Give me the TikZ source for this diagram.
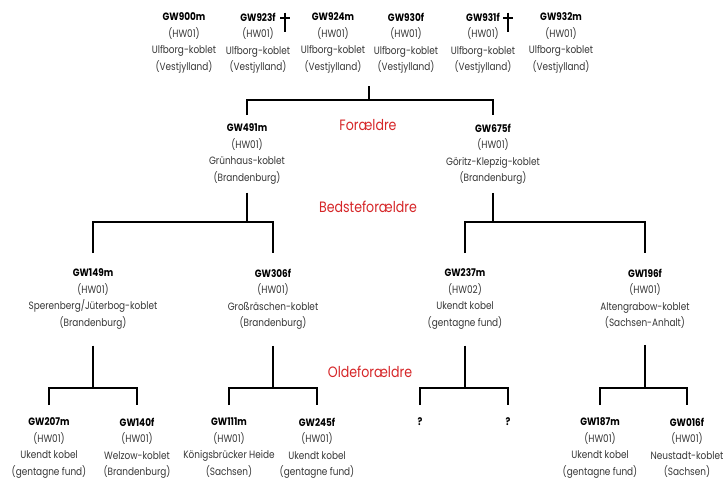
\documentclass[tikz,border=0pt]{standalone}
\usepackage{fontspec}
\setmainfont{Poppins}[FakeStretch=0.84]
\definecolor{txtgray}{RGB}{55,55,55}
\definecolor{gred}{RGB}{214,38,40}
\newcommand\pers[4]{\rule{0pt}{8pt}\textbf{\textcolor{black}{#1}}\\#2\\#3\\#4}
\begin{document}
\begin{tikzpicture}[x=1pt,y=-1pt,
  person/.style={align=center, anchor=north, inner sep=0pt, font=\fontsize{10.6}{16.6}\selectfont, text=txtgray},
  qmark/.style={anchor=north, inner sep=0pt, font=\fontsize{10.6}{16.6}\selectfont\bfseries},
  conn/.style={line width=2.6pt},
  gen/.style={text=gred, font=\fontsize{15}{16}\selectfont, inner sep=0pt}]
\path[use as bounding box, fill=white] (0,0) rectangle (724,480);

% top row
\node[person] (p900) at (184,12.5) {\pers{GW900m}{(HW01)}{Ulfborg-koblet}{(Vestjylland)}};
\node[person] (p923) at (258,12.5) {\pers{GW923f}{(HW01)}{Ulfborg-koblet}{(Vestjylland)}};
\node[person] (p924) at (333,12.5) {\pers{GW924m}{(HW01)}{Ulfborg-koblet}{(Vestjylland)}};
\node[person] (p930) at (406,12.5) {\pers{GW930f}{(HW01)}{Ulfborg-koblet}{(Vestjylland)}};
\node[person] (p931) at (483,12.5) {\pers{GW931f}{(HW01)}{Ulfborg-koblet}{(Vestjylland)}};
\node[person] (p932) at (561,12.5) {\pers{GW932m}{(HW01)}{Ulfborg-koblet}{(Vestjylland)}};

% crosses
\foreach \cx in {285,508}{
  \draw[line width=2.6pt] (\cx,12.5) -- (\cx,32);
  \draw[line width=2.4pt] (\cx-5,18) -- (\cx+5,18);
}

% parents
\node[person] (p491) at (247,123.5) {\pers{GW491m}{(HW01)}{Grünhaus-koblet}{(Brandenburg)}};
\node[person] (p675) at (493,123.5) {\pers{GW675f}{(HW01)}{Göritz-Klepzig-koblet}{(Brandenburg)}};

% grandparents
\node[person] (p149) at (93,268.5) {\pers{GW149m}{(HW01)}{Sperenberg/Jüterbog-koblet}{(Brandenburg)}};
\node[person] (p306) at (273,268.5) {\pers{GW306f}{(HW01)}{Großräschen-koblet}{(Brandenburg)}};
\node[person] (p237) at (465,268.5) {\pers{GW237m}{(HW02)}{Ukendt kobel}{(gentagne fund)}};
\node[person] (p196) at (645,268.5) {\pers{GW196f}{(HW01)}{Altengrabow-koblet}{(Sachsen-Anhalt)}};

% great-grandparents
\node[person] (p207) at (49,417.5) {\pers{GW207m}{(HW01)}{Ukendt kobel}{(gentagne fund)}};
\node[person] (p140) at (137,417.5) {\pers{GW140f}{(HW01)}{Welzow-koblet}{(Brandenburg)}};
\node[person] (p111) at (229,417.5) {\pers{GW111m}{(HW01)}{Königsbrücker Heide}{(Sachsen)}};
\node[person] (p245) at (317,417.5) {\pers{GW245f}{(HW01)}{Ukendt kobel}{(gentagne fund)}};
\node[qmark] (q1) at (420,417.5) {\rule{0pt}{8pt}?};
\node[qmark] (q2) at (508,417.5) {\rule{0pt}{8pt}?};
\node[person] (p187) at (600,417.5) {\pers{GW187m}{(HW01)}{Ukendt kobel}{(gentagne fund)}};
\node[person] (p016) at (687,417.5) {\pers{GW016f}{(HW01)}{Neustadt-koblet}{(Sachsen)}};

% generation labels
\node[gen] (lf) at (368,125) {Forældre};
\node[gen] (lb) at (368,207) {Bedsteforældre};
\node[gen] (lo) at (370,372) {Oldeforældre};

% connectors
\coordinate (c0) at (369,86);
\coordinate (j1) at (369,100);
\coordinate (y2) at (0,222);
\coordinate (y3) at (0,388);
\draw[conn] (c0) -- (j1);
\draw[conn] ([yshift=8.5pt]p491.north) |- (j1) -| ([yshift=8.5pt]p675.north);

\draw[conn] ([yshift=-8pt]p491.south) -- (p491.south |- y2);
\draw[conn] ([yshift=15.5pt]p149.north) |- (p306.north |- y2) -- ([yshift=15.5pt]p306.north);
\draw[conn] ([yshift=-8pt]p675.south) -- (p675.south |- y2);
\draw[conn] ([yshift=15.5pt]p237.north) |- (p196.north |- y2) -- ([yshift=15.5pt]p196.north);

\draw[conn] ([yshift=-16pt]p149.south) -- (p149.south |- y3);
\draw[conn] ([yshift=12.5pt]p207.north) |- (p140.north |- y3) -- ([yshift=12.5pt]p140.north);
\draw[conn] ([yshift=-16pt]p306.south) -- (p306.south |- y3);
\draw[conn] ([yshift=12.5pt]p111.north) |- (p245.north |- y3) -- ([yshift=12.5pt]p245.north);
\draw[conn] ([yshift=-16pt]p237.south) -- (p237.south |- y3);
\draw[conn] ([yshift=12.5pt]q1.north) |- (q2.north |- y3) -- ([yshift=12.5pt]q2.north);
\draw[conn] ([yshift=-16pt]p196.south) -- (p196.south |- y3);
\draw[conn] ([yshift=12.5pt]p187.north) |- (p016.north |- y3) -- ([yshift=12.5pt]p016.north);
\end{tikzpicture}
\end{document}
